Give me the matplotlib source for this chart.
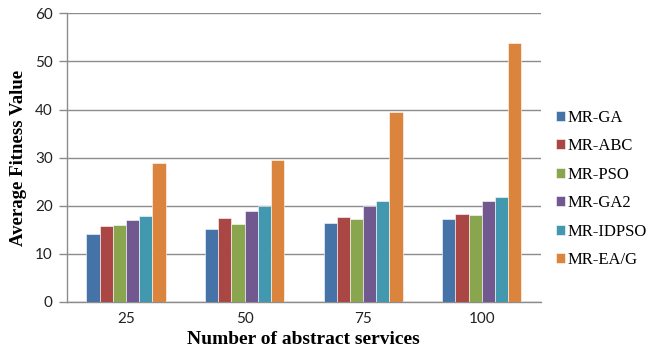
import matplotlib
matplotlib.use("Agg")
import matplotlib.pyplot as plt
import numpy as np

categories = ["25", "50", "75", "100"]
series_names = ["MR-GA", "MR-ABC", "MR-PSO", "MR-GA2", "MR-IDPSO", "MR-EA/G"]
mr_ga = [14.1, 15.2, 16.4, 17.3]
mr_abc = [15.8, 17.4, 17.6, 18.3]
mr_pso = [15.9, 16.2, 17.3, 18.1]
mr_ga2 = [17.0, 18.9, 19.9, 20.9]
mr_idpso = [17.9, 20.0, 20.9, 21.9]
mr_eag = [28.9, 29.5, 39.5, 53.9]
y_ticks = [0, 10, 20, 30, 40, 50, 60]

series_values = [mr_ga, mr_abc, mr_pso, mr_ga2, mr_idpso, mr_eag]
colors = ["#4572A7", "#AA4643", "#89A54E", "#71588F", "#4198AF", "#DB843D"]

fig = plt.figure(figsize=(6.49, 3.59), dpi=100)
ax = fig.add_axes([0.1028, 0.1588, 0.7308, 0.8042])

n = len(series_names)
bar_w = 1.0 / 9
x = np.arange(len(categories))
for i, (name, vals, c) in enumerate(zip(series_names, series_values, colors)):
    offs = (i - (n - 1) / 2) * bar_w
    ax.bar(x + offs, vals, width=bar_w, color=c, edgecolor="white",
           linewidth=0.4, label=name, zorder=3)

ax.set_xlim(-0.5, len(categories) - 0.5)
ax.set_ylim(0, 60)
ax.set_yticks(y_ticks)
ax.set_xticks(x)
ax.set_xticklabels(categories)

grid_c = "#8c8c8c"
ax.yaxis.grid(True, color=grid_c, linewidth=1.0, zorder=0)
for s in ["top", "right"]:
    ax.spines[s].set_visible(False)
ax.spines["left"].set_color(grid_c)
ax.spines["bottom"].set_color(grid_c)
ax.spines["left"].set_linewidth(1.0)
ax.spines["bottom"].set_linewidth(1.0)
ax.tick_params(axis="y", length=6, color=grid_c, width=1.0, pad=4,
               labelsize=11, labelcolor="#222222")
ax.tick_params(axis="x", length=0, pad=7, labelsize=11, labelcolor="#222222")
for lab in ax.get_xticklabels() + ax.get_yticklabels():
    lab.set_fontfamily("Lato")

ax.set_ylabel("Average Fitness Value", fontfamily="Liberation Serif",
              fontweight="bold", fontsize=13.5, labelpad=6)
ax.set_xlabel("Number of abstract services", fontfamily="Liberation Serif",
              fontweight="bold", fontsize=14, labelpad=4)

leg = fig.legend(loc="center left", bbox_to_anchor=(0.856, 0.4735),
                 frameon=False, prop={"family": "Liberation Serif", "size": 12},
                 handlelength=0.55, handleheight=0.55, handletextpad=0.15,
                 labelspacing=0.75, borderaxespad=0, borderpad=0)

fig.savefig("out.png", dpi=100)
